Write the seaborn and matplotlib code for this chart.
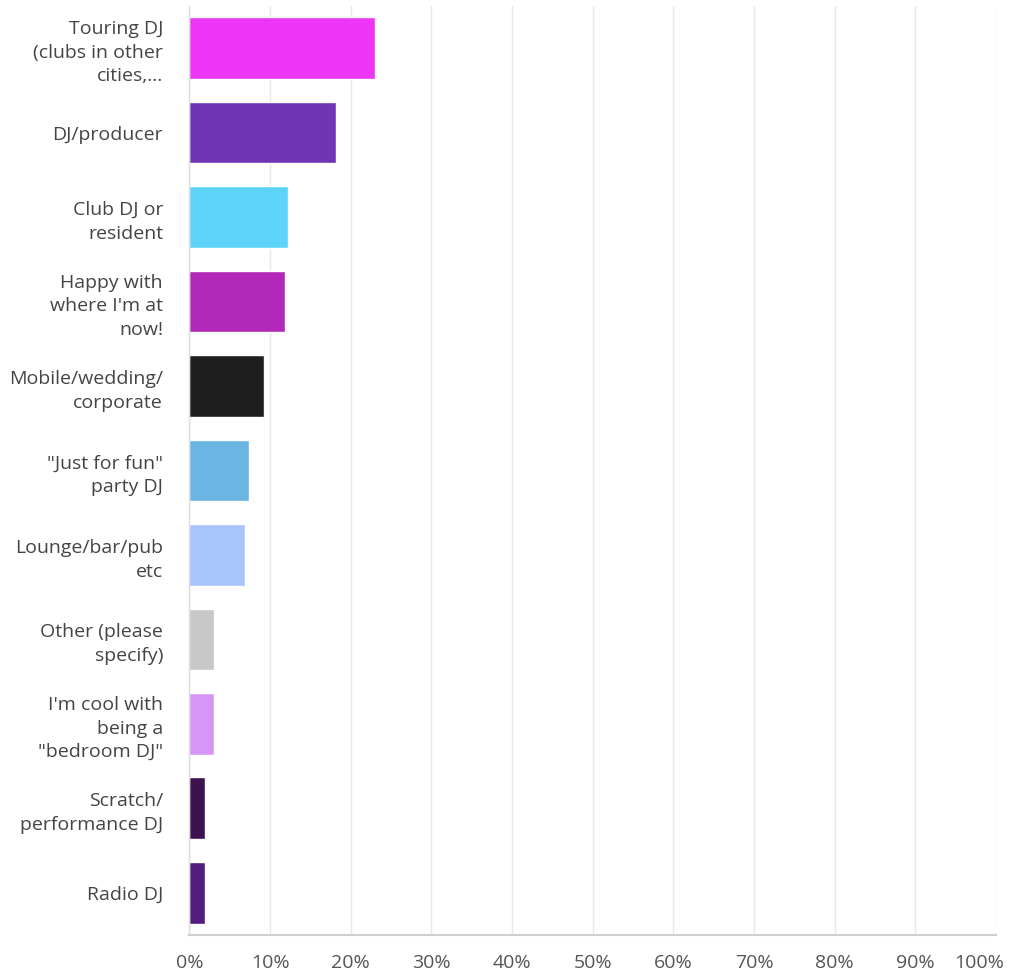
import matplotlib
matplotlib.use("Agg")
import matplotlib.pyplot as plt
import matplotlib.transforms as mtransforms
import seaborn as sns
import pandas as pd

# Data
categories = [
    "Touring DJ\n(clubs in other\ncities,...",
    "DJ/producer",
    "Club DJ or\nresident",
    "Happy with\nwhere I'm at\nnow!",
    "Mobile/wedding/\ncorporate",
    "\"Just for fun\"\nparty DJ",
    "Lounge/bar/pub\netc",
    "Other (please\nspecify)",
    "I'm cool with\nbeing a\n\"bedroom DJ\"",
    "Scratch/\nperformance DJ",
    "Radio DJ",
]
percent = [23.0, 18.2, 12.2, 11.8, 9.2, 7.4, 6.9, 3.05, 3.05, 1.9, 1.9]
colors = ["#EC35F5", "#7035B4", "#5ED3F9", "#B228B8", "#1E1E1E", "#6BB5E3",
          "#A9C4FB", "#C8C8C8", "#D596F6", "#3D1250", "#531C80"]
ticks = list(range(0, 101, 10))
tick_labels = [f"{t}%" for t in ticks]

df = pd.DataFrame({"cat": categories, "pct": percent})

sns.set_theme(style="white")
plt.rcParams["font.family"] = ["Open Sans", "DejaVu Sans"]

fig = plt.figure(figsize=(10.16, 9.74), dpi=100)
ax = fig.add_axes([0.1865, 0.040, 0.7938, 0.954])

sns.barplot(data=df, y="cat", x="pct", hue="cat", palette=dict(zip(categories, colors)),
            legend=False, width=0.73, saturation=1, ax=ax)

ax.set_xlim(0, 100)
ax.set_ylim(10.5, -0.5)
ax.set_xticks(ticks)
ax.set_xticklabels(tick_labels)
ax.set_xlabel("")
ax.set_ylabel("")

ax.grid(axis="x", color="#e8e8e8", linewidth=1)
ax.set_axisbelow(True)
for s in ["top", "right"]:
    ax.spines[s].set_visible(False)
ax.spines["bottom"].set_color("#cfcfcf")
ax.spines["bottom"].set_linewidth(1.5)
ax.spines["left"].set_color("#dddddd")
ax.spines["left"].set_linewidth(1)

ax.tick_params(axis="y", length=0, pad=19, labelsize=14, labelcolor="#444444")
ax.tick_params(axis="x", length=0, pad=14, labelsize=14, labelcolor="#555555")
for lbl in ax.get_yticklabels():
    lbl.set_linespacing(1.4)

# nudge the last label so "100%" stays inside the figure
last = ax.get_xticklabels()[-1]
last.set_transform(last.get_transform() + mtransforms.ScaledTranslation(-12 / 72, 0, fig.dpi_scale_trans))

fig.savefig("out.png", dpi=100)
